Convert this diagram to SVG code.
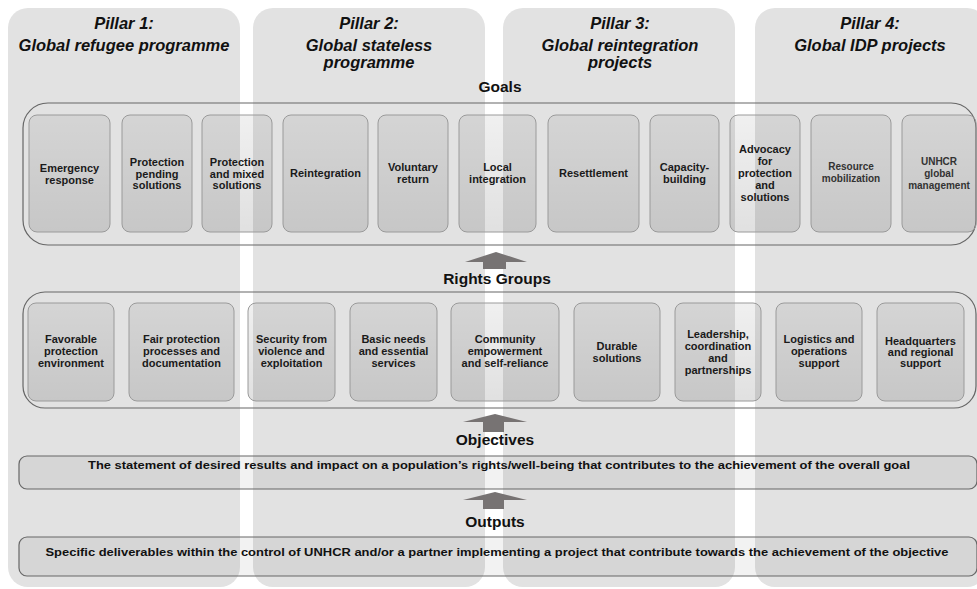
<svg xmlns="http://www.w3.org/2000/svg" width="977" height="589" viewBox="0 0 977 589">
<defs>
<linearGradient id="boxg" x1="0" y1="0" x2="0" y2="1">
<stop offset="0" stop-color="#000" stop-opacity="0.06"/>
<stop offset="1" stop-color="#000" stop-opacity="0.12"/>
</linearGradient>
<style>
.pillar{fill:#e2e2e2}
.ptitle{font-family:"Liberation Sans",Arial,sans-serif;font-weight:bold;font-style:italic;font-size:16.5px;fill:#111;text-anchor:middle}
.label{font-family:"Liberation Sans",Arial,sans-serif;font-weight:bold;font-size:15.5px;fill:#111;text-anchor:middle}
.container{fill:none;stroke:#666;stroke-width:1.2}
.box{fill:url(#boxg);stroke:#9a9a9a;stroke-width:1}
.bt{font-family:"Liberation Sans",Arial,sans-serif;font-weight:bold;font-size:11px;fill:#1a1a1a;text-anchor:middle}
.bts{font-family:"Liberation Sans",Arial,sans-serif;font-weight:bold;font-size:10px;fill:#333;text-anchor:middle}
.band{fill:#000;fill-opacity:0.05;stroke:#666;stroke-width:1.2}
.bandt{font-family:"Liberation Sans",Arial,sans-serif;font-weight:bold;font-size:11.5px;fill:#111;text-anchor:middle}
.arrow{fill:#777373}
</style>
</defs>
<rect width="977" height="589" fill="#ffffff"/>

<g id="pillar1"><rect class="pillar" x="8" y="8" width="232" height="579" rx="20"/>
<text class="ptitle" x="124" y="29">Pillar 1:</text>
<text class="ptitle" x="124" y="51">Global refugee programme</text></g>
<g id="pillar2"><rect class="pillar" x="253" y="8" width="232" height="579" rx="20"/>
<text class="ptitle" x="369" y="29">Pillar 2:</text>
<text class="ptitle" x="369" y="51">Global stateless</text>
<text class="ptitle" x="369" y="68">programme</text></g>
<g id="pillar3"><rect class="pillar" x="503" y="8" width="232" height="579" rx="20"/>
<text class="ptitle" x="620" y="29">Pillar 3:</text>
<text class="ptitle" x="620" y="51">Global reintegration</text>
<text class="ptitle" x="620" y="68">projects</text></g>
<g id="pillar4"><rect class="pillar" x="755" y="8" width="232" height="579" rx="20"/>
<text class="ptitle" x="870" y="29">Pillar 4:</text>
<text class="ptitle" x="870" y="51">Global IDP projects</text></g>

<g id="goals"><text class="label" x="500" y="92" font-size="15">Goals</text>
<rect class="container" x="23" y="103" width="953" height="142" rx="25"/></g>

<g id="g1"><rect class="box" x="29" y="115" width="81" height="117" rx="8"/><text class="bt" x="69.5" y="172">Emergency</text><text class="bt" x="69.5" y="184">response</text></g>
<g id="g2"><rect class="box" x="122" y="115" width="70" height="117" rx="8"/><text class="bt" x="157" y="166">Protection</text><text class="bt" x="157" y="177.5">pending</text><text class="bt" x="157" y="189">solutions</text></g>
<g id="g3"><rect class="box" x="202" y="115" width="70" height="117" rx="8"/><text class="bt" x="237" y="166">Protection</text><text class="bt" x="237" y="177.5">and mixed</text><text class="bt" x="237" y="189">solutions</text></g>
<g id="g4"><rect class="box" x="283" y="115" width="85" height="117" rx="8"/><text class="bt" x="325.5" y="177">Reintegration</text></g>
<g id="g5"><rect class="box" x="378" y="115" width="70" height="117" rx="8"/><text class="bt" x="413" y="171">Voluntary</text><text class="bt" x="413" y="183">return</text></g>
<g id="g6"><rect class="box" x="459" y="115" width="77" height="117" rx="8"/><text class="bt" x="497.5" y="171">Local</text><text class="bt" x="497.5" y="183">integration</text></g>
<g id="g7"><rect class="box" x="548" y="115" width="91" height="117" rx="8"/><text class="bt" x="593.5" y="177">Resettlement</text></g>
<g id="g8"><rect class="box" x="650" y="115" width="69" height="117" rx="8"/><text class="bt" x="684.5" y="171">Capacity-</text><text class="bt" x="684.5" y="183">building</text></g>
<g id="g9"><rect class="box" x="730" y="115" width="70" height="117" rx="8"/><text class="bt" x="765" y="153">Advocacy</text><text class="bt" x="765" y="165">for</text><text class="bt" x="765" y="177">protection</text><text class="bt" x="765" y="189">and</text><text class="bt" x="765" y="201">solutions</text></g>
<g id="g10"><rect class="box" x="811" y="115" width="80" height="117" rx="8"/><text class="bts" x="851" y="170">Resource</text><text class="bts" x="851" y="182">mobilization</text></g>
<g id="g11"><rect class="box" x="902" y="115" width="74" height="117" rx="8"/><text class="bts" x="939" y="165">UNHCR</text><text class="bts" x="939" y="177">global</text><text class="bts" x="939" y="189">management</text></g>

<g id="rights"><text class="label" x="497" y="284">Rights Groups</text>
<rect class="container" x="23" y="292" width="953" height="116" rx="22"/></g>

<g id="r1"><rect class="box" x="28" y="303" width="86" height="98" rx="8"/><text class="bt" x="71" y="343">Favorable</text><text class="bt" x="71" y="355">protection</text><text class="bt" x="71" y="367">environment</text></g>
<g id="r2"><rect class="box" x="129" y="303" width="105" height="98" rx="8"/><text class="bt" x="181.5" y="343">Fair protection</text><text class="bt" x="181.5" y="355">processes and</text><text class="bt" x="181.5" y="367">documentation</text></g>
<g id="r3"><rect class="box" x="248" y="303" width="87" height="98" rx="8"/><text class="bt" x="291.5" y="343">Security from</text><text class="bt" x="291.5" y="355">violence and</text><text class="bt" x="291.5" y="367">exploitation</text></g>
<g id="r4"><rect class="box" x="350" y="303" width="87" height="98" rx="8"/><text class="bt" x="393.5" y="343">Basic needs</text><text class="bt" x="393.5" y="355">and essential</text><text class="bt" x="393.5" y="367">services</text></g>
<g id="r5"><rect class="box" x="451" y="303" width="108" height="98" rx="8"/><text class="bt" x="505" y="343">Community</text><text class="bt" x="505" y="355">empowerment</text><text class="bt" x="505" y="367">and self-reliance</text></g>
<g id="r6"><rect class="box" x="574" y="303" width="86" height="98" rx="8"/><text class="bt" x="617" y="350">Durable</text><text class="bt" x="617" y="362">solutions</text></g>
<g id="r7"><rect class="box" x="675" y="303" width="86" height="98" rx="8"/><text class="bt" x="718" y="338">Leadership,</text><text class="bt" x="718" y="350">coordination</text><text class="bt" x="718" y="361.5">and</text><text class="bt" x="718" y="373.5">partnerships</text></g>
<g id="r8"><rect class="box" x="776" y="303" width="86" height="98" rx="8"/><text class="bt" x="819" y="343">Logistics and</text><text class="bt" x="819" y="355">operations</text><text class="bt" x="819" y="367">support</text></g>
<g id="r9"><rect class="box" x="877" y="303" width="87" height="98" rx="8"/><text class="bt" x="920.5" y="345" font-size="10.5">Headquarters</text><text class="bt" x="920.5" y="356" font-size="10.5">and regional</text><text class="bt" x="920.5" y="367" font-size="10.5">support</text></g>

<g id="objectives"><text class="label" x="495" y="445" font-size="16.5">Objectives</text>
<rect class="band" x="19" y="456" width="958" height="33" rx="8"/>
<text class="bandt" x="499" y="469" textLength="822" lengthAdjust="spacingAndGlyphs">The statement of desired results and impact on a population’s rights/well-being that contributes to the achievement of the overall goal</text></g>

<g id="outputs"><text class="label" x="495" y="527" font-size="16.5">Outputs</text>
<rect class="band" x="19" y="537" width="958" height="39" rx="8"/>
<text class="bandt" x="497" y="556" font-size="12" textLength="903" lengthAdjust="spacingAndGlyphs">Specific deliverables within the control of UNHCR and/or a partner implementing a project that contribute towards the achievement of the objective</text></g>

<g id="connectors">
<polygon class="arrow" points="465,262 496,252 527,262 506,262 506,269 483,269 483,262"/>
<polygon class="arrow" points="463,422 495,414 527,422 504,422 504,432 483,432 483,422"/>
<polygon class="arrow" points="463,500 495,492 527,500 504,500 504,509 483,509 483,500"/>
</g>
</svg>
